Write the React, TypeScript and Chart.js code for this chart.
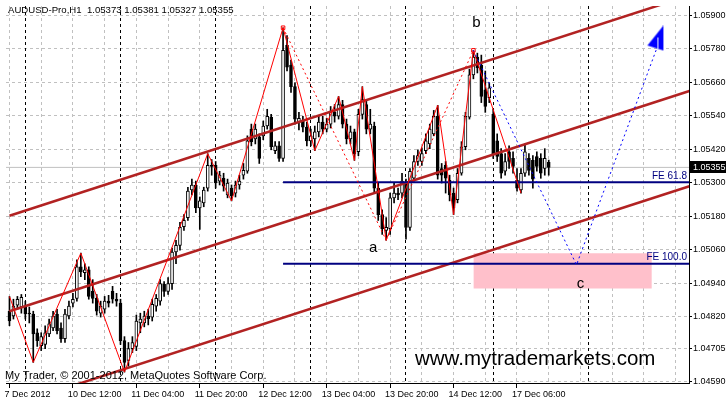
import React, { useEffect, useRef } from 'react';
import { Chart, registerables } from 'chart.js';

Chart.register(...registerables);

// ---------- Candles (H1, AUDUSD) ----------
const opens = [
  1.04840, 1.04823, 1.04862, 1.04855, 1.04858, 1.04833, 1.04830, 1.04763, 1.04717, 1.04721,
  1.04759, 1.04780, 1.04830, 1.04780, 1.04742, 1.04823, 1.04869, 1.04886, 1.04999, 1.04978,
  1.04988, 1.04911, 1.04886, 1.04833, 1.04847, 1.04876, 1.04911, 1.04883, 1.04869, 1.04735,
  1.04664, 1.04706, 1.04714, 1.04798, 1.04798, 1.04823, 1.04819, 1.04858, 1.04876, 1.04936,
  1.04911, 1.04939, 1.05052, 1.05076, 1.05143, 1.05175, 1.05274, 1.05292, 1.05210, 1.05228,
  1.05281, 1.05362, 1.05362, 1.05306, 1.05316, 1.05256, 1.05281, 1.05263, 1.05292, 1.05327,
  1.05341, 1.05492, 1.05457, 1.05464, 1.05468, 1.05503, 1.05535, 1.05415, 1.05432, 1.05387,
  1.05792, 1.05721, 1.05644, 1.05517, 1.05521, 1.05499, 1.05450, 1.05457, 1.05482, 1.05517,
  1.05492, 1.05510, 1.05552, 1.05538, 1.05580, 1.05510, 1.05457, 1.05482, 1.05411, 1.05545,
  1.05580, 1.05492, 1.05503, 1.05281, 1.05186, 1.05129, 1.05136, 1.05246, 1.05263, 1.05263,
  1.05299, 1.05140, 1.05316, 1.05376, 1.05376, 1.05415, 1.05439, 1.05475, 1.05538, 1.05351,
  1.05362, 1.05309, 1.05263, 1.05239, 1.05334, 1.05429, 1.05535, 1.05686, 1.05750, 1.05721,
  1.05633, 1.05605, 1.05545, 1.05450, 1.05404, 1.05341, 1.05411, 1.05387, 1.05309, 1.05274,
  1.05334, 1.05387, 1.05380, 1.05394, 1.05387, 1.05351, 1.05373,
];
const highs = [
  1.04893, 1.04883, 1.04893, 1.04900, 1.04876, 1.04855, 1.04840, 1.04777, 1.04763, 1.04788,
  1.04812, 1.04840, 1.04847, 1.04798, 1.04847, 1.04876, 1.04904, 1.05024, 1.05048, 1.05010,
  1.04999, 1.04953, 1.04900, 1.04876, 1.04893, 1.04897, 1.04929, 1.04904, 1.04883, 1.04749,
  1.04728, 1.04749, 1.04826, 1.04833, 1.04840, 1.04847, 1.04883, 1.04900, 1.04953, 1.04946,
  1.04960, 1.05066, 1.05094, 1.05158, 1.05186, 1.05284, 1.05313, 1.05306, 1.05249, 1.05284,
  1.05404, 1.05383, 1.05376, 1.05341, 1.05334, 1.05313, 1.05292, 1.05306, 1.05327, 1.05369,
  1.05468, 1.05510, 1.05510, 1.05475, 1.05521, 1.05563, 1.05545, 1.05447, 1.05447, 1.05855,
  1.05827, 1.05739, 1.05658, 1.05552, 1.05538, 1.05517, 1.05492, 1.05503, 1.05538, 1.05538,
  1.05531, 1.05573, 1.05580, 1.05609, 1.05595, 1.05528, 1.05503, 1.05492, 1.05563, 1.05644,
  1.05595, 1.05563, 1.05517, 1.05299, 1.05203, 1.05175, 1.05263, 1.05299, 1.05281, 1.05334,
  1.05313, 1.05351, 1.05397, 1.05418, 1.05425, 1.05475, 1.05510, 1.05559, 1.05577, 1.05369,
  1.05376, 1.05327, 1.05281, 1.05351, 1.05447, 1.05552, 1.05707, 1.05774, 1.05764, 1.05757,
  1.05700, 1.05658, 1.05563, 1.05475, 1.05422, 1.05404, 1.05432, 1.05411, 1.05351, 1.05351,
  1.05439, 1.05404, 1.05397, 1.05411, 1.05404, 1.05422, 1.05381,
];
const lows = [
  1.04788, 1.04812, 1.04847, 1.04833, 1.04812, 1.04798, 1.04657, 1.04714, 1.04699, 1.04706,
  1.04749, 1.04770, 1.04759, 1.04728, 1.04728, 1.04812, 1.04855, 1.04876, 1.04964, 1.04953,
  1.04883, 1.04869, 1.04826, 1.04819, 1.04833, 1.04855, 1.04869, 1.04858, 1.04721, 1.04622,
  1.04643, 1.04692, 1.04699, 1.04763, 1.04784, 1.04791, 1.04805, 1.04840, 1.04862, 1.04893,
  1.04900, 1.04918, 1.05010, 1.05059, 1.05129, 1.05165, 1.05256, 1.05193, 1.05133, 1.05214,
  1.05270, 1.05327, 1.05281, 1.05292, 1.05270, 1.05246, 1.05235, 1.05249, 1.05277, 1.05313,
  1.05334, 1.05432, 1.05439, 1.05369, 1.05454, 1.05492, 1.05418, 1.05404, 1.05376, 1.05376,
  1.05700, 1.05623, 1.05510, 1.05489, 1.05482, 1.05432, 1.05432, 1.05415, 1.05464, 1.05475,
  1.05482, 1.05496, 1.05517, 1.05528, 1.05496, 1.05439, 1.05439, 1.05380, 1.05397, 1.05528,
  1.05475, 1.05475, 1.05263, 1.05165, 1.05115, 1.05094, 1.05115, 1.05228, 1.05239, 1.05246,
  1.05098, 1.05129, 1.05306, 1.05362, 1.05362, 1.05404, 1.05422, 1.05468, 1.05313, 1.05299,
  1.05263, 1.05235, 1.05186, 1.05228, 1.05327, 1.05418, 1.05528, 1.05672, 1.05693, 1.05587,
  1.05552, 1.05587, 1.05387, 1.05376, 1.05316, 1.05327, 1.05351, 1.05334, 1.05270, 1.05263,
  1.05323, 1.05327, 1.05281, 1.05341, 1.05316, 1.05327, 1.05327,
];
const closes = [
  1.04805, 1.04858, 1.04883, 1.04890, 1.04830, 1.04830, 1.04759, 1.04735, 1.04749, 1.04763,
  1.04795, 1.04823, 1.04770, 1.04742, 1.04830, 1.04858, 1.04883, 1.04999, 1.04981, 1.04988,
  1.04893, 1.04886, 1.04840, 1.04858, 1.04876, 1.04869, 1.04883, 1.04876, 1.04735, 1.04657,
  1.04706, 1.04728, 1.04805, 1.04812, 1.04823, 1.04812, 1.04865, 1.04886, 1.04939, 1.04911,
  1.04939, 1.05052, 1.05076, 1.05140, 1.05165, 1.05270, 1.05292, 1.05210, 1.05235, 1.05274,
  1.05362, 1.05358, 1.05299, 1.05327, 1.05288, 1.05299, 1.05253, 1.05292, 1.05306, 1.05344,
  1.05450, 1.05447, 1.05492, 1.05387, 1.05503, 1.05538, 1.05429, 1.05432, 1.05387, 1.05774,
  1.05714, 1.05644, 1.05528, 1.05531, 1.05499, 1.05450, 1.05468, 1.05482, 1.05517, 1.05492,
  1.05510, 1.05552, 1.05538, 1.05580, 1.05510, 1.05457, 1.05482, 1.05404, 1.05545, 1.05598,
  1.05492, 1.05510, 1.05281, 1.05186, 1.05136, 1.05140, 1.05246, 1.05263, 1.05256, 1.05306,
  1.05140, 1.05341, 1.05376, 1.05397, 1.05404, 1.05450, 1.05492, 1.05538, 1.05327, 1.05327,
  1.05316, 1.05256, 1.05210, 1.05334, 1.05429, 1.05538, 1.05686, 1.05750, 1.05711, 1.05609,
  1.05573, 1.05640, 1.05404, 1.05394, 1.05334, 1.05376, 1.05376, 1.05358, 1.05281, 1.05334,
  1.05411, 1.05344, 1.05313, 1.05358, 1.05334, 1.05387, 1.05355,
];

// ---------- Axes ----------
const yTicks = [1.059, 1.0578, 1.0566, 1.0554, 1.0542, 1.053, 1.0518, 1.0506, 1.0494, 1.0482, 1.04705, 1.0459];
const xGridBars = [0, 8, 16, 24, 32, 40, 48, 56, 64, 72, 80, 88, 96, 104, 112, 120, 128, 136, 144, 152, 160, 168];
const xTickBars = [0, 16, 32, 48, 64, 80, 96, 112, 128];
const xTickLabels = ['7 Dec 2012', '10 Dec 12:00', '11 Dec 04:00', '11 Dec 20:00', '12 Dec 12:00', '13 Dec 04:00', '13 Dec 20:00', '14 Dec 12:00', '17 Dec 06:00'];
const daySeparatorBars = [4, 28, 52, 76, 100, 122, 146];
const xMin = -0.875;
const xMax = 171.375;
const yMin = 1.04583;
const yMax = 1.059328;

// ---------- Objects ----------
const zigzagBars = [0, 6, 18, 29, 50, 56, 69, 77, 83, 87, 89, 95, 108, 112, 117, 129];
const zigzagPrices = [1.04893, 1.04657, 1.05048, 1.04622, 1.05404, 1.05235, 1.05855, 1.05415, 1.05609, 1.05380, 1.05644, 1.05094, 1.05577, 1.05186, 1.05774, 1.05263];
const dottedABars = [69, 95];
const dottedAPrices = [1.05855, 1.05094];
const dottedBBars = [95, 117];
const dottedBPrices = [1.05094, 1.05774];
const projBars = [117, 143, 164];
const projPrices = [1.05774, 1.05006, 1.05810];
const channelBars = [0, 172];
const channelTop = [1.05182, 1.05973];
const channelMid = [1.04840, 1.05631];
const channelLow = [1.04500, 1.05290];
const feStartBar = 69;
const fe618 = 1.05302;
const fe100 = 1.05010;
const zoneBars = [117, 162];
const zoneTop = 1.05048;
const zoneBottom = 1.04921;
const peakMarkBars = [69, 117];
const peakMarkPrices = [1.05855, 1.05774];
const arrowBar = 162.9;
const arrowPrice = 1.058165;
const waveLabels = ['a', 'b', 'c'];
const waveBars = [91.75, 117.75, 144];
const wavePrices = [1.05066, 1.05873, 1.04939];

const FONT = "'Liberation Sans', Arial, sans-serif";

const pts = (xs: number[], ys: number[]) => xs.map((x, k) => ({ x, y: ys[k] }));

function makeArrow() {
  const c = document.createElement('canvas');
  c.width = 18;
  c.height = 26;
  const g = c.getContext('2d')!;
  g.fillStyle = '#0000ff';
  g.beginPath();
  g.moveTo(17, 0);
  g.lineTo(1, 20);
  g.lineTo(17, 25);
  g.closePath();
  g.fill();
  g.fillStyle = '#ffffff';
  g.fillRect(11, 12, 1, 11);
  return c;
}

const overlay = {
  id: 'mtOverlay',
  beforeDatasetsDraw(chart: any) {
    const { ctx, chartArea: ca, scales } = chart;
    const x = scales.x;
    ctx.save();
    ctx.strokeStyle = '#000';
    ctx.lineWidth = 1;
    ctx.setLineDash([3, 3]);
    daySeparatorBars.forEach((b) => {
      const px = Math.floor(x.getPixelForValue(b)) + 0.5;
      ctx.beginPath();
      ctx.moveTo(px, ca.top);
      ctx.lineTo(px, ca.bottom);
      ctx.stroke();
    });
    ctx.restore();
  },
  afterDraw(chart: any) {
    const { ctx, chartArea: ca, scales } = chart;
    const x = scales.x;
    const y = scales.y;
    const last = closes.length - 1;
    ctx.save();
    ctx.fillStyle = '#000';
    ctx.textAlign = 'left';
    ctx.textBaseline = 'middle';
    ctx.font = `9.6px ${FONT}`;
    ctx.fillText(
      `AUDUSD-Pro,H1  ${opens[last].toFixed(5)} ${highs[last].toFixed(5)} ${lows[last].toFixed(5)} ${closes[last].toFixed(5)}`,
      8, 10
    );
    ctx.font = `11px ${FONT}`;
    ctx.fillText('My Trader, © 2001-2012, MetaQuotes Software Corp.', 5, 376);
    ctx.font = `20.5px ${FONT}`;
    ctx.textBaseline = 'alphabetic';
    ctx.fillText('www.mytrademarkets.com', 415, 365);

    ctx.font = `15px ${FONT}`;
    ctx.textAlign = 'center';
    ctx.textBaseline = 'middle';
    waveLabels.forEach((t, k) => {
      ctx.fillText(t, x.getPixelForValue(waveBars[k]), y.getPixelForValue(wavePrices[k]));
    });

    ctx.font = `10px ${FONT}`;
    ctx.fillStyle = '#000080';
    ctx.textAlign = 'right';
    ctx.textBaseline = 'bottom';
    ctx.fillText('FE 61.8', ca.right - 2, y.getPixelForValue(fe618) - 1);
    ctx.fillText('FE 100.0', ca.right - 2, y.getPixelForValue(fe100) - 1);

    const bid = closes[last];
    const py = y.getPixelForValue(bid);
    ctx.fillStyle = '#000';
    ctx.fillRect(ca.right + 1, Math.round(py) - 6, 40, 12);
    ctx.fillStyle = '#fff';
    ctx.font = `9px ${FONT}`;
    ctx.textAlign = 'left';
    ctx.textBaseline = 'middle';
    ctx.fillText(bid.toFixed(5), ca.right + 4, py);
    ctx.restore();
  },
};

export default function App() {
  const ref = useRef<HTMLCanvasElement>(null);

  useEffect(() => {
    const canvas = ref.current;
    if (!canvas) return;
    const arrowImg = makeArrow();
    const barIdx = opens.map((_, i) => i);
    const bid = closes[closes.length - 1];

    const lineDs = (data: any[], extra: any) => ({
      type: 'line',
      data,
      pointRadius: 0,
      borderWidth: 1,
      fill: false,
      tension: 0,
      ...extra,
    });

    const chart = new Chart(canvas, {
      type: 'bar',
      data: {
        datasets: [
          lineDs(pts(zoneBars, [zoneTop, zoneTop]), {
            fill: { value: zoneBottom },
            backgroundColor: 'rgb(255,192,203)',
            borderWidth: 0,
            borderColor: 'rgba(0,0,0,0)',
            order: 100,
          }),
          lineDs(pts([xMin, xMax], [bid, bid]), { borderColor: '#c0c0c0', order: 95 }),
          {
            type: 'bar',
            data: barIdx.map((i) => ({ x: i, y: [lows[i], highs[i]] })),
            backgroundColor: '#000',
            borderWidth: 0,
            barThickness: 1,
            grouped: false,
            order: 90,
          },
          {
            type: 'bar',
            data: barIdx.map((i) => ({ x: i, y: [opens[i], closes[i]] })),
            backgroundColor: (c: any) => (closes[c.dataIndex] >= opens[c.dataIndex] ? '#ffffff' : '#000000'),
            borderColor: '#000',
            borderWidth: 1,
            borderSkipped: false,
            barThickness: 3,
            grouped: false,
            order: 80,
          },
          lineDs(pts(channelBars, channelTop), { borderColor: '#b22222', borderWidth: 2.5, order: 60 }),
          lineDs(pts(channelBars, channelMid), { borderColor: '#b22222', borderWidth: 2.5, order: 60 }),
          lineDs(pts(channelBars, channelLow), { borderColor: '#b22222', borderWidth: 2.5, order: 60 }),
          lineDs(pts([feStartBar, xMax], [fe618, fe618]), { borderColor: '#000080', borderWidth: 2, order: 50 }),
          lineDs(pts([feStartBar, xMax], [fe100, fe100]), { borderColor: '#000080', borderWidth: 2, order: 50 }),
          lineDs(pts(dottedABars, dottedAPrices), { borderColor: '#ff0000', borderDash: [2, 3], order: 40 }),
          lineDs(pts(dottedBBars, dottedBPrices), { borderColor: '#ff0000', borderDash: [2, 3], order: 40 }),
          lineDs(pts(zigzagBars, zigzagPrices), { borderColor: '#ff0000', order: 30 }),
          lineDs(pts(projBars, projPrices), { borderColor: '#0000ff', borderDash: [2, 3], order: 20 }),
          {
            type: 'scatter',
            data: [{ x: arrowBar, y: arrowPrice }],
            pointStyle: arrowImg,
            pointRadius: 5,
            showLine: false,
            order: 10,
          },
          {
            type: 'scatter',
            data: pts(peakMarkBars, peakMarkPrices),
            pointStyle: 'rect',
            pointRadius: 2.5,
            borderColor: '#ff0000',
            backgroundColor: 'rgba(0,0,0,0)',
            borderWidth: 1,
            showLine: false,
            order: 5,
          },
        ] as any,
      },
      options: {
        animation: false,
        responsive: false,
        events: [],
        layout: { padding: 0 },
        plugins: { legend: { display: false }, tooltip: { enabled: false } },
        scales: {
          x: {
            type: 'linear',
            min: xMin,
            max: xMax,
            offset: false,
            grid: {
              offset: false,
              color: '#c0c0c0',
              tickLength: 5,
              tickColor: (c: any) =>
                c.tick && xTickBars.includes(Math.round(c.tick.value)) ? '#000' : 'rgba(0,0,0,0)',
            },
            border: { display: true, color: '#000', width: 1, dash: [3, 3] },
            afterBuildTicks: (s: any) => {
              s.ticks = xGridBars.map((v) => ({ value: v - 0.01 }));
            },
            ticks: {
              autoSkip: false,
              maxRotation: 0,
              minRotation: 0,
              align: 'start',
              labelOffset: -5,
              padding: 1,
              color: '#000',
              font: { size: 9, family: FONT },
              callback: (v: any) => {
                const k = xTickBars.indexOf(Math.round(Number(v)));
                return k >= 0 ? xTickLabels[k] : '';
              },
            },
            afterFit: (s: any) => {
              s.height = 18;
              s.paddingLeft = 0;
              s.paddingRight = 0;
            },
          },
          y: {
            type: 'linear',
            position: 'right',
            min: yMin,
            max: yMax,
            grid: { color: '#c0c0c0', tickLength: 3, tickColor: '#000' },
            border: { display: true, color: '#000', width: 1, dash: [3, 3] },
            afterBuildTicks: (s: any) => {
              s.ticks = yTicks.map((v) => ({ value: v }));
            },
            ticks: {
              autoSkip: false,
              padding: 1,
              color: '#000',
              font: { size: 9, family: FONT },
              callback: (v: any) => Number(v).toFixed(5),
            },
            afterFit: (s: any) => {
              s.width = 37;
              s.paddingTop = 0;
              s.paddingBottom = 0;
            },
          },
        },
      } as any,
      plugins: [overlay],
    });

    return () => chart.destroy();
  }, []);

  return (
    <div style={{ position: 'absolute', left: 0, top: 0, width: 726, height: 401, background: '#fff' }}>
      <canvas ref={ref} width={726} height={401} style={{ display: 'block' }} />
    </div>
  );
}
